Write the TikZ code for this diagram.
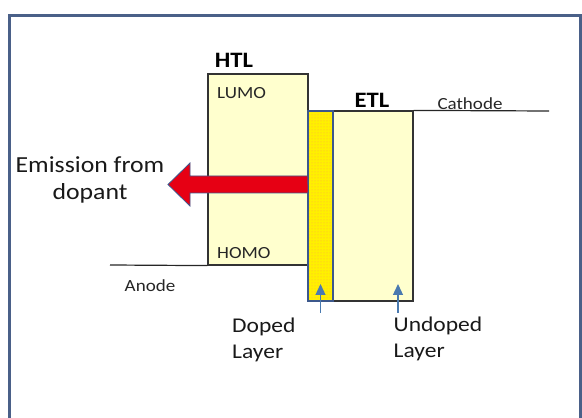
\documentclass[tikz,border=0pt]{standalone}
\usepackage{fontspec}
\setmainfont{Carlito}[FakeStretch=1.12]
\usetikzlibrary{positioning,arrows.meta,patterns}
\definecolor{framecol}{RGB}{74,96,136}
\definecolor{lightyel}{RGB}{255,255,206}
\definecolor{dopeyel}{RGB}{255,240,0}
\definecolor{dopeline}{RGB}{60,88,140}
\definecolor{pointer}{RGB}{74,122,176}
\definecolor{arrowred}{RGB}{230,0,20}
\tikzset{
  layer/.style={draw=black!80, line width=1.2pt, fill=lightyel, inner sep=0pt},
  level/.style={line width=1.2pt, black!85},
  lbl/.style={font=\fontsize{17}{19}\selectfont, text=black!85, inner sep=0pt},
  biglbl/.style={font=\fontsize{21}{26}\selectfont, text=black!90, align=center, inner sep=0pt},
  title/.style={font=\bfseries\fontsize{22}{24}\selectfont, inner sep=0pt},
  pointarrow/.style={pointer, line width=1.3pt, -{Triangle[length=11pt,width=10pt]}}
}
\begin{document}
\begin{tikzpicture}[x=1pt,y=1pt]
    \useasboundingbox (0,0) rectangle (582,418);
    % outer frame
    \draw[framecol, line width=2.5pt] (9.5,-10) rectangle (580.5,402.5);
    % layers
    \node[layer, minimum width=100pt, minimum height=191pt] (htl) at (258,248.5) {};
    \node[layer, minimum width=80pt, minimum height=190pt] (etl) at (373,212) {};
    \node[inner sep=0pt, minimum width=25pt, minimum height=190pt,
          fill=dopeyel] (dop) at (320.5,212) {};
    \fill[pattern=dots, pattern color=orange!70] (dop.south west) rectangle (dop.north east);
    \draw[dopeline, line width=2.5pt] (dop.south west) rectangle (dop.north east);
    % electrodes
    \coordinate (anodeend) at (110,153);
    \coordinate (cathodeend) at (549,307);
    \draw[level] (anodeend) -- (htl.south west);
    \draw[level] (etl.north east) -- (cathodeend);
    % layer titles
    \node[title] (htltxt) at (234,358) {HTL};
    \node[title] (etltxt) at (372,318) {ETL};
    \node[lbl, anchor=west] (lumo) at (217,325) {LUMO};
    \node[lbl, anchor=west] (homo) at (217,165) {HOMO};
    \node[lbl] (cathode) at (470,314) {Cathode};
    \node[lbl] (anode) at (150,132) {Anode};
    % emission arrow
    \coordinate (tail) at (dop.west |- 0,233.5);
    \coordinate (tip) at (168,233.5);
    \draw[draw=dopeline, fill=arrowred, line width=0.8pt]
        (tail) ++(0,8.5) -- (190,242) -- (190,255) -- (tip) -- (190,212) -- (190,225) -- ++(118,0) -- cycle;
    \node[biglbl, font=\fontsize{23}{27}\selectfont] (emis) at (90,238) {Emission from\\dopant};
    % pointers to the layers
    \coordinate (dopfoot) at (dop.south |- 0,105);
    \coordinate (etlfoot) at (398,105);
    \draw[pointarrow] (dopfoot) -- ++(0,29);
    \draw[pointarrow] (etlfoot) -- ++(0,29);
    \node[biglbl, anchor=north west, align=left] (doped) at (232,100) {Doped\\Layer};
    \node[biglbl, anchor=north west, align=left] (undoped) at (393.5,101) {Undoped\\Layer};
\end{tikzpicture}
\end{document}
